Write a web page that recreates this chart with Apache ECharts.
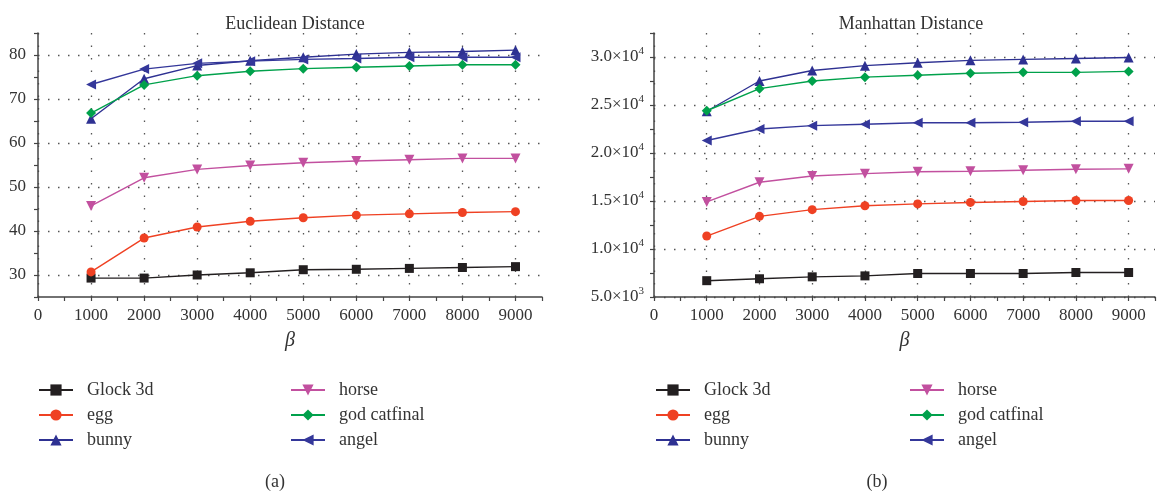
<!DOCTYPE html>
<html>
<head>
<meta charset="utf-8">
<style>
  html, body { margin: 0; padding: 0; background: #fff; }
  #main { width: 1158px; height: 492px; }
</style>
<script src="https://cdn.jsdelivr.net/npm/echarts@6/dist/echarts.min.js"></script>
</head>
<body>
<div id="main"></div>
<script>
// beta values on the x axis
var betaValues = [1000, 2000, 3000, 4000, 5000, 6000, 7000, 8000, 9000];

// (a) Euclidean distance
var euGlock = [29.3, 29.3, 30.0, 30.5, 31.2, 31.3, 31.5, 31.7, 31.9];
var euEgg = [30.7, 38.4, 40.9, 42.2, 43.0, 43.6, 43.9, 44.2, 44.4];
var euBunny = [65.5, 74.6, 77.6, 78.7, 79.5, 80.2, 80.6, 80.8, 81.1];
var euHorse = [45.7, 52.1, 54.0, 54.9, 55.5, 55.9, 56.2, 56.5, 56.5];
var euCat = [66.8, 73.2, 75.3, 76.3, 76.9, 77.2, 77.5, 77.8, 77.8];
var euAngel = [73.3, 76.8, 78.1, 78.6, 79.0, 79.2, 79.5, 79.5, 79.5];

// (b) Manhattan distance
var mhGlock = [6700, 6900, 7100, 7200, 7450, 7450, 7450, 7550, 7550];
var mhEgg = [11350, 13400, 14100, 14500, 14700, 14850, 14950, 15050, 15050];
var mhBunny = [24350, 27500, 28600, 29100, 29400, 29650, 29750, 29850, 29950];
var mhHorse = [14900, 16950, 17600, 17850, 18050, 18100, 18200, 18300, 18350];
var mhCat = [24400, 26700, 27500, 27900, 28100, 28300, 28400, 28400, 28500];
var mhAngel = [21300, 22500, 22850, 23000, 23150, 23150, 23200, 23300, 23300];

var names = ["Glock 3d", "egg", "bunny", "horse", "god catfinal", "angel"];
var colors = ["#231f20", "#ef4123", "#2e3192", "#c2509f", "#00a14b", "#34379a"];
var symbols = ["rect", "circle", "triangle", "triangle", "diamond", "triangle"];
var rotates = [0, 0, 0, 180, 0, 90];
var sizes = [9, 9, 10, 10, 10, 10];

var FONT = "Liberation Serif";
var TXT = "#333";
var GRID_DOT = "#555";

function zip(ys) {
  return betaValues.map(function (x, i) { return [x, ys[i]]; });
}

function makeSeries(idx, sets) {
  return sets.map(function (ys, k) {
    return {
      name: names[k],
      type: "line",
      xAxisIndex: idx,
      yAxisIndex: idx,
      data: zip(ys),
      symbol: symbols[k],
      symbolSize: sizes[k],
      symbolRotate: rotates[k],
      color: colors[k],
      lineStyle: { width: 1.4, color: colors[k] },
      itemStyle: { color: colors[k] },
      z: 3
    };
  });
}

function xAxisOf(idx) {
  return {
    type: "value",
    gridIndex: idx,
    min: 0,
    max: 9500,
    interval: 500,
    name: "β",
    nameLocation: "middle",
    nameGap: 34,
    nameTextStyle: { fontFamily: FONT, fontStyle: "italic", fontSize: 20, color: TXT },
    axisLine: { lineStyle: { color: "#444", width: 1.5 } },
    axisTick: { show: true, inside: false, length: 4, lineStyle: { color: "#444", width: 1.2 } },
    axisLabel: {
      margin: 10,
      fontFamily: FONT,
      fontSize: 17,
      color: TXT,
      formatter: function (v) { return v % 1000 === 0 ? String(v) : ""; }
    },
    splitLine: {
      show: true,
      lineStyle: { color: [GRID_DOT, "rgba(0,0,0,0)"], type: [1.5, 11], width: 1.3 }
    }
  };
}

function supLabel(v) {
  var e = Math.floor(Math.log10(v));
  var m = (v / Math.pow(10, e)).toFixed(1);
  return "{b|" + m + "×10}{s|" + e + "}";
}

var option = {
  animation: false,
  textStyle: { fontFamily: FONT },
  title: [
    { text: "Euclidean Distance", left: 290, top: 10, textAlign: "center",
      textStyle: { fontFamily: FONT, fontSize: 18, fontWeight: "normal", color: TXT } },
    { text: "Manhattan Distance", left: 906, top: 10, textAlign: "center",
      textStyle: { fontFamily: FONT, fontSize: 18, fontWeight: "normal", color: TXT } },
    { text: "(a)", left: 270, top: 468, textAlign: "center",
      textStyle: { fontFamily: FONT, fontSize: 18, fontWeight: "normal", color: TXT } },
    { text: "(b)", left: 872, top: 468, textAlign: "center",
      textStyle: { fontFamily: FONT, fontSize: 18, fontWeight: "normal", color: TXT } }
  ],
  grid: [
    { left: 38, top: 33, width: 504, height: 264 },
    { left: 654, top: 33, width: 504, height: 264 }
  ],
  legend: [],
  xAxis: [xAxisOf(0), xAxisOf(1)],
  yAxis: [
    {
      type: "value",
      gridIndex: 0,
      min: 25,
      max: 85,
      interval: 5,
      axisLine: { show: true, lineStyle: { color: "#444", width: 1.5 } },
      axisTick: { show: true, length: 4, lineStyle: { color: "#444", width: 1.2 } },
      axisLabel: {
        margin: 12,
        fontFamily: FONT,
        fontSize: 17,
        color: TXT,
        formatter: function (v) { return v % 10 === 0 ? String(v) : ""; }
      },
      splitLine: {
        show: true,
        lineStyle: { color: ["rgba(0,0,0,0)", GRID_DOT], type: [1.5, 8.5], width: 1.3 }
      }
    },
    {
      type: "value",
      gridIndex: 1,
      min: 5000,
      max: 32500,
      interval: 2500,
      axisLine: { show: true, lineStyle: { color: "#444", width: 1.5 } },
      axisTick: { show: true, length: 4, lineStyle: { color: "#444", width: 1.2 } },
      axisLabel: {
        margin: 10,
        color: TXT,
        formatter: function (v) { return v % 5000 === 0 ? supLabel(v) : ""; },
        rich: {
          b: { fontFamily: FONT, fontSize: 17, color: TXT, lineHeight: 22 },
          s: { fontFamily: FONT, fontSize: 11, color: TXT, verticalAlign: "top", lineHeight: 12 }
        }
      },
      splitLine: {
        show: true,
        lineStyle: { color: [GRID_DOT, "rgba(0,0,0,0)"], type: [1.5, 8.5], width: 1.3 }
      }
    }
  ],
  series: []
    .concat(makeSeries(0, [euGlock, euEgg, euBunny, euHorse, euCat, euAngel]))
    .concat(makeSeries(1, [mhGlock, mhEgg, mhBunny, mhHorse, mhCat, mhAngel]))
};

// two legend columns under each chart
var legendCols = [
  { left: 38, data: names.slice(0, 3) },
  { left: 290, data: names.slice(3) },
  { left: 655, data: names.slice(0, 3) },
  { left: 909, data: names.slice(3) }
];
legendCols.forEach(function (c) {
  option.legend.push({
    left: c.left,
    top: 381,
    orient: "vertical",
    padding: 0,
    itemGap: 7,
    itemWidth: 34,
    itemHeight: 14,
    selectedMode: false,
    data: c.data,
    textStyle: { fontFamily: FONT, fontSize: 18, color: TXT, lineHeight: 18, padding: [0, 0, 0, 9] }
  });
});

var chart = echarts.init(document.getElementById("main"));
chart.setOption(option);
</script>
</body>
</html>
